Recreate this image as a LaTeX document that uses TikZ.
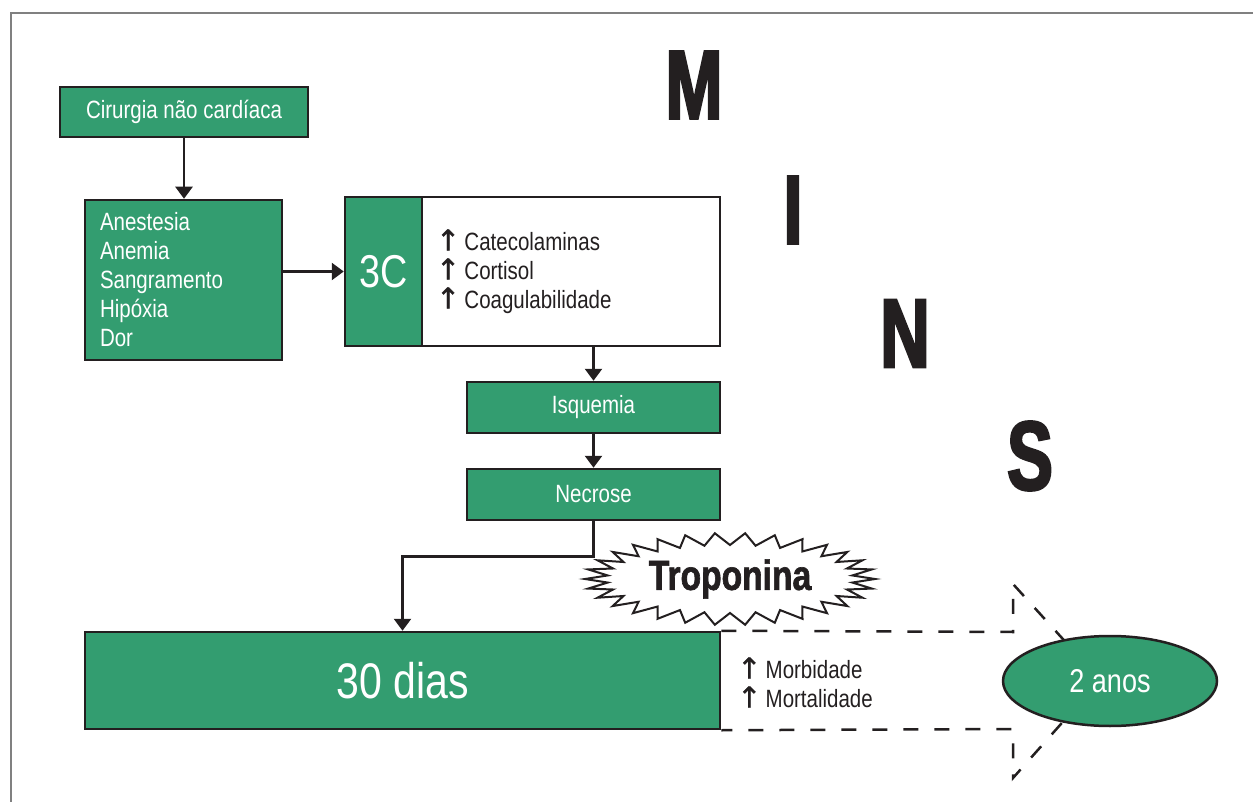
\documentclass[tikz,border=0pt]{standalone}
\usepackage{fontspec}
\setmainfont{Liberation Sans}[FakeStretch=0.82]
\newfontfamily\bigfont{Liberation Sans}[FakeStretch=0.7, FakeBold=2.5]
\newfontfamily\heavyfont{Liberation Sans}[FakeStretch=0.8, FakeBold=1.5]
\newfontfamily\arrowfont{DejaVu Sans}[FakeBold=1]
\usepackage{tikz}
\usetikzlibrary{arrows.meta,shapes.geometric}
\definecolor{mgreen}{RGB}{51,157,112}
\definecolor{ink}{RGB}{35,31,32}
\newcommand{\txtsize}{\fontsize{25}{29}\selectfont}
\newcommand{\up}{{\fontsize{29}{29}\arrowfont ↑}\,}

\begin{document}
\begin{tikzpicture}[x=1pt, y=-1pt,
    gbox/.style={draw=ink, fill=mgreen, line width=2.5pt, text=white, inner sep=0pt, font=\txtsize},
    wbox/.style={draw=ink, fill=white, line width=2.5pt, text=ink, inner sep=0pt, font=\txtsize},
    flow/.style={draw=ink, line width=2.5pt, -{Triangle[width=17pt,length=12pt]}},
    dashline/.style={draw=ink, line width=2.5pt, dash pattern=on 15pt off 16pt},
    letter/.style={text=ink, inner sep=0pt, font=\fontsize{98}{98}\bigfont\bfseries}]
\useasboundingbox (0,0) rectangle (1253,802);
\draw[gray, line width=2pt] (11,802) -- (11,13) -- (1253,13);

\node[gbox, minimum width=248pt, minimum height=50pt] (cir) at (184,112) {Cirurgia não cardíaca};
\node[gbox, minimum width=197pt, minimum height=160pt, text width=167pt, align=left] (risk) at (183.5,280)
    {Anestesia\\Anemia\\Sangramento\\Hipóxia\\Dor};
\node[wbox, minimum width=298pt, minimum height=149pt, text width=270pt, align=left] (horm) at (571,271.5)
    {\up Catecolaminas\\\up Cortisol\\\up Coagulabilidade};
\node[gbox, minimum width=77pt, minimum height=149pt, font=\fontsize{46}{50}\selectfont] (c3) at (383.5,271.5) {3C};
\node[gbox, minimum width=253pt, minimum height=51pt] (isq) at (593.5,407.5) {Isquemia};
\node[gbox, minimum width=253pt, minimum height=51pt] (nec) at (593.5,494.5) {Necrose};
\node[gbox, minimum width=635pt, minimum height=97pt, font=\fontsize{50}{55}\selectfont] (dias) at (402.5,680.5) {30 dias};

\draw[flow] (cir.south) -- (cir.south |- risk.north);
\draw[flow] (risk.east |- c3.west) -- (c3.west);
\draw[flow] (isq.north |- horm.south) -- (isq.north);
\draw[flow] (isq.south) -- (nec.north);
\draw[flow] (nec.south) -- ++(0,35) -| (dias.north);

\coordinate (tc) at (730,579);
\draw[ink, line width=2pt, fill=white, line join=miter]
    ([shift={(0:145 and 46)}]tc)
    \foreach \k in {1,...,59} { -- ([shift={({\k*6}:{145-22*mod(\k,2)} and {46-12*mod(\k,2)})}]tc) } -- cycle;
\node[text=ink, font=\fontsize{42}{42}\heavyfont\bfseries] (tropo) at (tc) {Troponina};

\coordinate (ua) at (1013,632);
\coordinate (ub) at (1013,584);
\coordinate (tip) at (1100,680);
\coordinate (lb) at (1013,778);
\coordinate (la) at (1013,729);
\draw[dashline] (dias.north east) -- (ua) -- (ub) -- (tip) -- (lb) -- (la) -- (dias.south east);
\node[text=ink, inner sep=0pt, anchor=west, align=left, font=\fontsize{25}{29}\selectfont] (risco) at (737,682.5)
    {\up Morbidade\\\up Mortalidade};
\node[ellipse, draw=ink, fill=mgreen, line width=2.5pt, text=white, inner sep=0pt,
    minimum width=214pt, minimum height=90pt, font=\fontsize{33}{36}\selectfont] (anos) at (1110,681) {2 anos};

\node[letter] (lm) at (694,85) {M};
\node[letter] (li) at (793,210) {I};
\node[letter] (ln) at (905,333.5) {N};
\node[letter] (ls) at (1030,456) {S};
\end{tikzpicture}
\end{document}
